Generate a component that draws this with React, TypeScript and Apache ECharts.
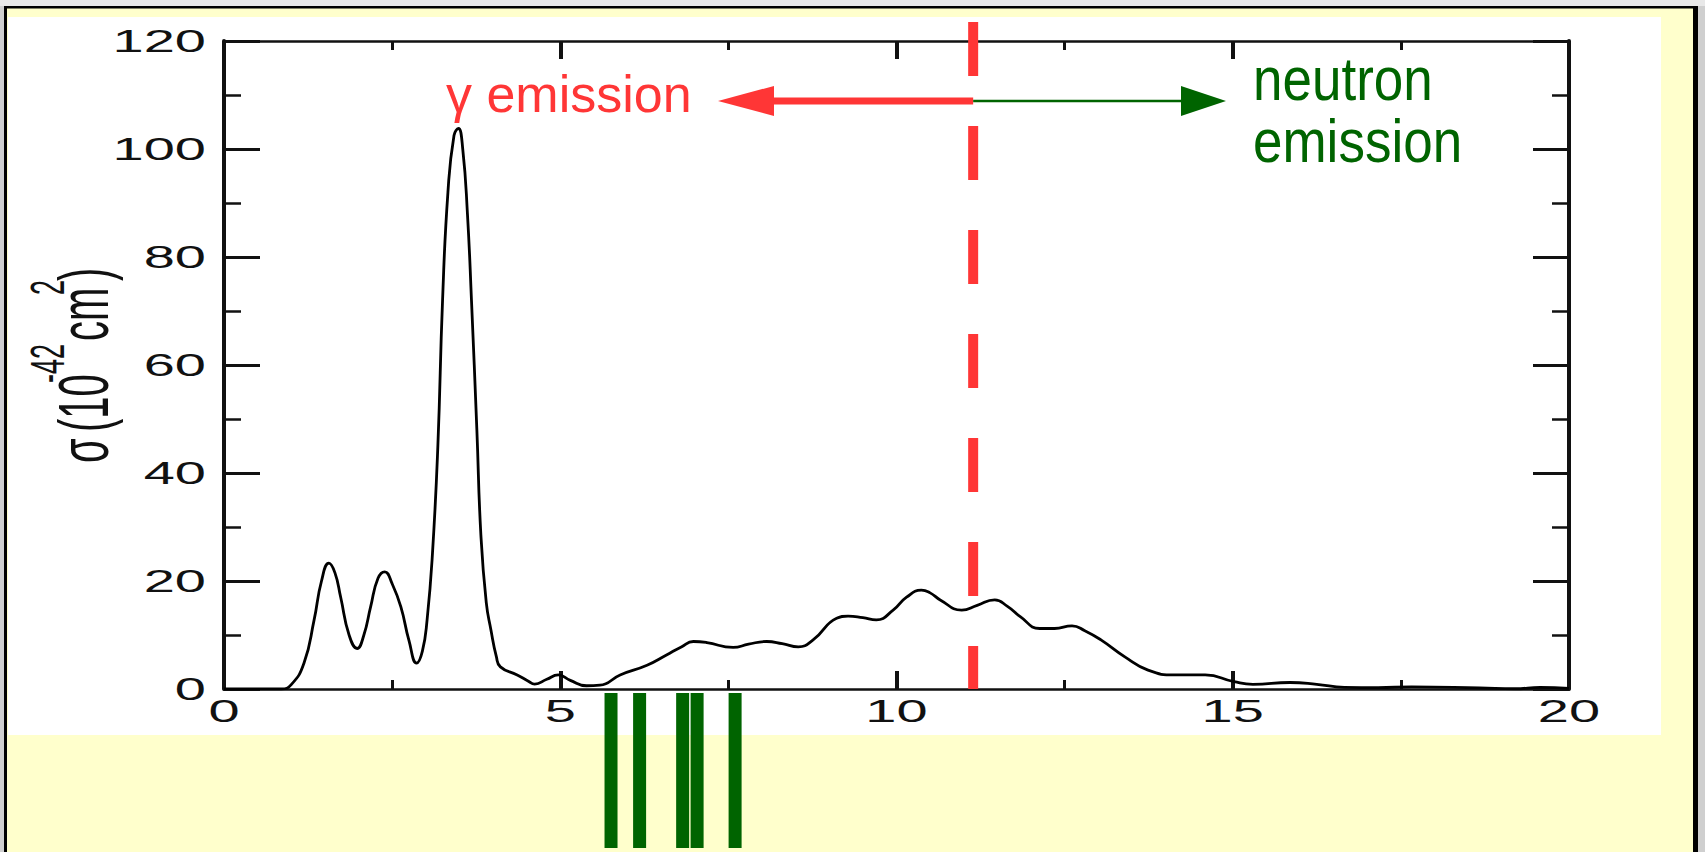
import React, { useEffect, useRef } from "react";
import * as echarts from "echarts";

// ---- data ----
const energy = [
  0, 0.85, 1.0, 1.19, 1.34, 1.45, 1.56, 1.65, 1.735, 1.86, 1.98, 2.08, 2.18, 2.29, 2.39, 2.5, 2.63, 2.75,
  2.865, 2.95, 3.02, 3.1, 3.18, 3.25, 3.33, 3.42, 3.485, 3.55, 3.62, 3.68, 3.76, 3.82, 3.9, 3.97, 4.05,
  4.11, 4.36, 4.52, 4.62, 4.8, 4.97, 5.15, 5.39, 5.59, 5.89, 6.29, 6.58, 6.8, 6.98, 7.18, 7.57, 7.8, 8.07,
  8.3, 8.54, 8.76, 9.11, 9.28, 9.5, 9.7, 9.95, 10.15, 10.37, 10.5, 10.65, 10.97, 11.2, 11.46, 11.65, 11.84,
  12.13, 12.35, 12.61, 12.8, 13.04, 13.39, 13.74, 14.14, 14.59, 15.02, 15.3, 15.85, 16.25, 16.66, 17.16,
  17.66, 18.67, 19.2, 19.57, 20,
];
const sigma = [
  0, 0, 0.8, 4.8, 12.8, 20, 23.3, 21.5, 17, 10, 7.5, 10, 15.2, 20.5, 21.7, 19.5, 15.2, 9,
  4.8, 7, 12.8, 25.1, 45, 72, 92, 102.5, 103.8, 100, 88, 72, 48, 28.5, 16, 10.9, 6,
  4.1, 2.6, 1.5, 0.9, 1.8, 2.6, 1.6, 0.6, 0.7, 2.6, 4.4, 6.3, 7.8, 8.8, 8.6, 7.7, 8.3, 8.8,
  8.4, 7.8, 9.1, 13.1, 13.5, 13.2, 12.8, 14.6, 17, 18.3, 17.8, 16.5, 14.6, 15.5, 16.5, 15.3, 13.4,
  11.2, 11.2, 11.7, 10.8, 9.1, 6.0, 3.5, 2.6, 2.6, 1.35, 0.87, 1.2, 0.87, 0.3, 0.25,
  0.4, 0.2, 0.05, 0.3, 0.1,
];
const levels = [5.755, 6.18, 6.82, 7.035, 7.6];
const xTicks = [0, 5, 10, 15, 20];
const xTickLabels = ["0", "5", "10", "15", "20"];
const yTicks = [0, 20, 40, 60, 80, 100, 120];
const yTickLabels = ["0", "20", "40", "60", "80", "100", "120"];
const threshold = 11.14;
const arrowLevel = 108.9;
const gammaLabel = "γ emission";
const neutronLabel = ["neutron", "emission"];

const FONT = "'Liberation Sans', Arial, Helvetica, sans-serif";

export default function App() {
  const ref = useRef<HTMLDivElement>(null);

  useEffect(() => {
    if (!ref.current) return;
    const chart = echarts.init(ref.current, null, { renderer: "svg" });

    const axisLineH = { show: true, onZero: false, lineStyle: { color: "#111", width: 2.5 } };
    const axisLineV = { show: true, onZero: false, lineStyle: { color: "#111", width: 4 } };

    const xCommon = {
      type: "value", gridIndex: 0, min: 0, max: 20, interval: 5,
      axisLine: axisLineH,
      axisTick: { show: true, inside: true, length: 18, lineStyle: { color: "#111", width: 4 } },
      minorTick: { show: true, splitNumber: 2, length: 9, lineStyle: { color: "#111", width: 3 } },
      axisLabel: { show: false }, splitLine: { show: false }, minorSplitLine: { show: false },
    };
    const yCommon = {
      type: "value", gridIndex: 0, min: 0, max: 120, interval: 20,
      axisLine: axisLineV,
      axisTick: { show: true, inside: true, length: 36, lineStyle: { color: "#111", width: 3 } },
      minorTick: { show: true, splitNumber: 2, length: 17, lineStyle: { color: "#111", width: 2.5 } },
      axisLabel: { show: false }, splitLine: { show: false }, minorSplitLine: { show: false },
    };

    chart.setOption({
      animation: false,
      backgroundColor: "#cfcfcf",
      grid: [
        { left: 224, top: 41, width: 1345, height: 648, containLabel: false },
        { left: 224, top: 693, width: 1345, height: 155, containLabel: false },
      ],
      xAxis: [
        { ...xCommon, position: "bottom" },
        { ...xCommon, position: "top" },
        { type: "value", gridIndex: 1, min: 0, max: 20, show: false },
      ],
      yAxis: [
        { ...yCommon, position: "left" },
        { ...yCommon, position: "right" },
        { type: "value", gridIndex: 1, min: 0, max: 1, show: false },
      ],
      series: [
        {
          type: "line",
          xAxisIndex: 0,
          yAxisIndex: 0,
          data: energy.map((e, i) => [e, sigma[i]]),
          showSymbol: false,
          smooth: 0.5,
          lineStyle: { color: "#000", width: 2.8 },
          z: 5,
        },
        {
          type: "custom",
          xAxisIndex: 2,
          yAxisIndex: 2,
          data: levels.map((l) => [l]),
          renderItem: (params: any, api: any) => {
            const x = api.value(0);
            const top = api.coord([x, 1]);
            const bottom = api.coord([x, 0]);
            return {
              type: "rect",
              shape: { x: top[0] - 6.5, y: top[1], width: 13, height: bottom[1] - top[1] },
              style: { fill: "#006400" },
            };
          },
          z: 5,
        },
      ],
    });

    const px = (v: number) => chart.convertToPixel({ xAxisIndex: 0 }, v) as number;
    const py = (v: number) => chart.convertToPixel({ yAxisIndex: 0 }, v) as number;

    const x0 = px(0);
    const yBottom = py(0);
    const tx = px(threshold);
    const ay = py(arrowLevel);

    const tickFont = { fontSize: 32, fontFamily: FONT, fill: "#111" };
    const labelEls: any[] = [];
    yTicks.forEach((t, i) => {
      labelEls.push({
        type: "text", x: x0 - 18, y: py(t), scaleX: 1.75, z: 20,
        style: { ...tickFont, text: yTickLabels[i], align: "right", verticalAlign: "middle" },
      });
    });
    xTicks.forEach((t, i) => {
      labelEls.push({
        type: "text", x: px(t), y: yBottom + 22, scaleX: 1.75, z: 20,
        style: { ...tickFont, text: xTickLabels[i], align: "center", verticalAlign: "middle" },
      });
    });

    // rotated y-axis title: σ (10^-42 cm^2)
    const tF = 40;
    const supF = 27;
    const base = -0.3465 * tF;
    const supBase = -25 - 0.3465 * supF;
    const titleStyle = { fontSize: tF, fontFamily: FONT, fill: "#111", verticalAlign: "middle", align: "left" };
    const supStyle = { fontSize: supF, fontFamily: FONT, fill: "#111", verticalAlign: "middle", align: "left" };
    const title = {
      type: "group", x: 108, y: 463, rotation: Math.PI / 2, scaleY: 1.75, z: 20,
      children: [
        { type: "text", x: 0, y: base, style: { ...titleStyle, text: "σ" } },
        { type: "text", x: 31, y: base, style: { ...titleStyle, text: "(10" } },
        { type: "text", x: 80, y: supBase, style: { ...supStyle, text: "-42" } },
        { type: "text", x: 122, y: base, style: { ...titleStyle, text: "cm" } },
        { type: "text", x: 168, y: supBase, style: { ...supStyle, text: "2" } },
        { type: "text", x: 182, y: base, style: { ...titleStyle, text: ")" } },
      ],
    };

    const red = "#ff3636";
    const green = "#006400";

    chart.setOption({
      graphic: {
        elements: [
          { type: "rect", z: -20, shape: { x: 0, y: 0, width: 1705, height: 6 }, style: { fill: "#e8e8e8" } },
          { type: "rect", z: -19, shape: { x: 4, y: 6, width: 1694, height: 860 }, style: { fill: "#000" } },
          { type: "rect", z: -18, shape: { x: 7, y: 8.5, width: 1686, height: 860 }, style: { fill: "#ffffcc" } },
          { type: "rect", z: -17, shape: { x: 8, y: 17, width: 1653, height: 718 }, style: { fill: "#ffffff" } },
          ...labelEls,
          title,
          // threshold dashed line
          {
            type: "line", z: 30,
            shape: { x1: tx, y1: 22, x2: tx, y2: yBottom },
            style: { stroke: red, lineWidth: 10, lineDash: [54, 50] },
          },
          // gamma arrow
          {
            type: "line", z: 30,
            shape: { x1: 772, y1: ay, x2: tx, y2: ay },
            style: { stroke: red, lineWidth: 7 },
          },
          {
            type: "polygon", z: 30,
            shape: { points: [[718, ay], [774, ay - 15], [774, ay + 15]] },
            style: { fill: red },
          },
          // neutron arrow
          {
            type: "line", z: 30,
            shape: { x1: tx, y1: ay, x2: 1183, y2: ay },
            style: { stroke: green, lineWidth: 2.5 },
          },
          {
            type: "polygon", z: 30,
            shape: { points: [[1226, ay], [1181, ay - 15], [1181, ay + 15]] },
            style: { fill: green },
          },
          {
            type: "text", x: 446, y: 112 - 0.3465 * 52, z: 30,
            style: { text: gammaLabel, fontSize: 52, fontFamily: FONT, fill: red, align: "left", verticalAlign: "middle" },
          },
          {
            type: "text", x: 1253, y: 100 - 0.3465 * 53 * 1.15, scaleY: 1.15, z: 30,
            style: { text: neutronLabel[0], fontSize: 53, fontFamily: FONT, fill: green, align: "left", verticalAlign: "middle" },
          },
          {
            type: "text", x: 1253, y: 162 - 0.3465 * 53 * 1.15, scaleY: 1.15, z: 30,
            style: { text: neutronLabel[1], fontSize: 53, fontFamily: FONT, fill: green, align: "left", verticalAlign: "middle" },
          },
        ],
      },
    });

    return () => chart.dispose();
  }, []);

  return (
    <div
      ref={ref}
      style={{ position: "fixed", left: 0, top: 0, width: 1705, height: 852 }}
    />
  );
}
